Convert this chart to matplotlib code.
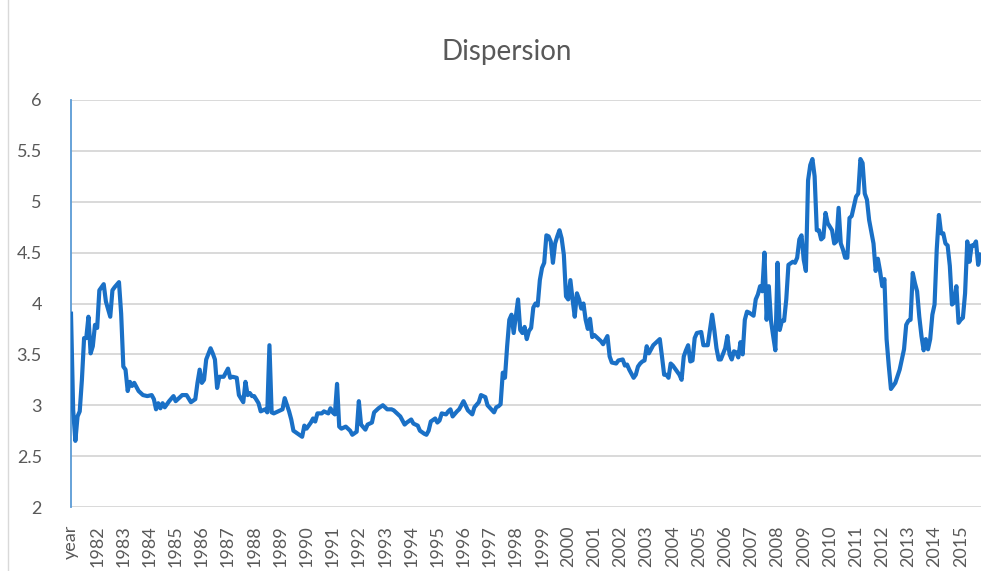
import matplotlib
matplotlib.use("Agg")
import matplotlib.pyplot as plt
from matplotlib.lines import Line2D

# monthly category index (0 = first category, labelled "year") and value
month_idx = [
    0, 1, 2, 3, 4, 5, 6, 7, 8, 9, 10, 11, 12, 13, 15, 16, 18, 19, 20, 22,
    23, 24, 25, 26, 27, 28, 29, 31, 33, 35, 37, 38, 39, 40, 41, 42, 43, 45, 47, 48,
    51, 53, 55, 57, 58, 59, 60, 61, 62, 64, 65, 66, 67, 68, 70, 72, 73, 74, 76, 77,
    79, 80, 81, 82, 83, 84, 86, 87, 89, 90, 91, 92, 93, 95, 97, 98, 100, 101, 102, 104,
    106, 107, 108, 110, 111, 112, 113, 115, 116, 118, 119, 120, 121, 122, 123, 124, 126, 128, 129, 131,
    132, 133, 135, 136, 138, 139, 141, 143, 145, 147, 148, 150, 151, 153, 154, 156, 157, 159, 160, 162,
    163, 164, 165, 167, 168, 169, 170, 172, 173, 174, 175, 177, 178, 180, 182, 184, 185, 187, 188, 190,
    191, 194, 195, 196, 197, 198, 199, 200, 201, 202, 203, 205, 206, 207, 208, 209, 210, 211, 212, 213,
    214, 215, 216, 217, 218, 219, 220, 221, 222, 223, 224, 225, 226, 227, 228, 229, 230, 231, 232, 233,
    234, 235, 236, 237, 238, 239, 240, 241, 243, 244, 246, 247, 248, 250, 251, 253, 254, 255, 256, 258,
    259, 260, 261, 262, 263, 264, 265, 267, 268, 270, 271, 272, 273, 274, 275, 276, 277, 279, 280, 281,
    282, 283, 284, 285, 286, 287, 289, 290, 291, 292, 294, 295, 296, 297, 298, 300, 301, 302, 303, 304,
    305, 306, 307, 308, 309, 310, 311, 313, 314, 315, 316, 317, 318, 319, 320, 321, 322, 323, 324, 325,
    326, 327, 328, 329, 331, 332, 333, 334, 335, 336, 337, 338, 339, 340, 341, 342, 343, 344, 345, 346,
    347, 349, 350, 351, 352, 353, 354, 355, 356, 357, 358, 360, 361, 362, 363, 364, 365, 366, 368, 369,
    370, 371, 372, 373, 374, 375, 376, 377, 378, 380, 381, 382, 383, 384, 385, 386, 387, 388, 389, 390,
    391, 392, 393, 394, 395, 396, 397, 398, 399, 400, 401, 402, 403, 404, 405, 406, 407, 408, 409, 410,
    411, 412, 413, 414, 415, 416, 417,
]
dispersion = [
    3.90, 2.95, 2.65, 2.89, 2.94, 3.25, 3.66, 3.66, 3.87, 3.51, 3.58, 3.79, 3.76, 4.13, 4.19, 4.02, 3.87, 4.13, 4.16, 4.21,
    3.90, 3.38, 3.35, 3.14, 3.23, 3.19, 3.22, 3.14, 3.10, 3.09, 3.10, 3.06, 2.96, 3.02, 2.97, 3.02, 2.98, 3.04, 3.09, 3.04,
    3.10, 3.10, 3.03, 3.06, 3.22, 3.35, 3.22, 3.25, 3.45, 3.56, 3.51, 3.45, 3.17, 3.28, 3.28, 3.36, 3.27, 3.28, 3.27, 3.10,
    3.03, 3.23, 3.10, 3.12, 3.09, 3.09, 3.02, 2.94, 2.96, 2.93, 3.59, 2.93, 2.92, 2.94, 2.96, 3.07, 2.94, 2.86, 2.75, 2.72,
    2.69, 2.80, 2.77, 2.83, 2.87, 2.84, 2.92, 2.92, 2.94, 2.92, 2.97, 2.93, 2.91, 3.21, 2.79, 2.77, 2.79, 2.75, 2.71, 2.74,
    3.04, 2.81, 2.76, 2.81, 2.83, 2.93, 2.97, 3.00, 2.96, 2.96, 2.95, 2.91, 2.89, 2.81, 2.83, 2.86, 2.82, 2.80, 2.75, 2.72,
    2.71, 2.75, 2.84, 2.87, 2.83, 2.85, 2.92, 2.91, 2.94, 2.96, 2.89, 2.94, 2.96, 3.04, 2.95, 2.91, 2.98, 3.03, 3.10, 3.08,
    3.00, 2.93, 2.98, 2.99, 3.01, 3.32, 3.27, 3.58, 3.84, 3.89, 3.71, 4.04, 3.74, 3.71, 3.77, 3.65, 3.73, 3.76, 3.96, 4.00,
    3.98, 4.23, 4.35, 4.40, 4.67, 4.66, 4.61, 4.40, 4.59, 4.66, 4.72, 4.64, 4.48, 4.07, 4.04, 4.23, 4.04, 3.87, 4.10, 4.04,
    3.95, 4.00, 3.84, 3.75, 3.85, 3.67, 3.69, 3.67, 3.63, 3.60, 3.68, 3.48, 3.42, 3.41, 3.44, 3.45, 3.39, 3.40, 3.35, 3.27,
    3.30, 3.38, 3.41, 3.43, 3.44, 3.58, 3.51, 3.59, 3.61, 3.65, 3.48, 3.30, 3.30, 3.27, 3.41, 3.39, 3.36, 3.30, 3.25, 3.48,
    3.54, 3.59, 3.43, 3.44, 3.66, 3.71, 3.72, 3.59, 3.59, 3.59, 3.89, 3.74, 3.56, 3.45, 3.45, 3.56, 3.68, 3.50, 3.45, 3.53,
    3.52, 3.47, 3.62, 3.50, 3.84, 3.92, 3.91, 3.88, 4.04, 4.09, 4.17, 4.12, 4.50, 3.84, 4.17, 3.83, 3.68, 3.54, 4.40, 3.74,
    3.83, 3.83, 4.04, 4.38, 4.41, 4.40, 4.45, 4.63, 4.67, 4.43, 4.32, 5.21, 5.36, 5.42, 5.25, 4.72, 4.72, 4.63, 4.65, 4.89,
    4.79, 4.72, 4.59, 4.61, 4.94, 4.59, 4.53, 4.45, 4.45, 4.84, 4.86, 5.05, 5.08, 5.42, 5.38, 5.08, 5.02, 4.82, 4.59, 4.32,
    4.44, 4.32, 4.17, 4.24, 3.65, 3.39, 3.16, 3.19, 3.22, 3.35, 3.45, 3.55, 3.79, 3.83, 3.84, 4.30, 4.20, 4.12, 3.87, 3.68,
    3.54, 3.65, 3.55, 3.65, 3.89, 3.99, 4.53, 4.87, 4.69, 4.69, 4.59, 4.57, 4.37, 3.99, 4.01, 4.17, 3.81, 3.84, 3.86, 4.10,
    4.61, 4.41, 4.57, 4.57, 4.61, 4.38, 4.48,
]

tick_labels = ["year"] + [str(y) for y in range(1982, 2016)]
yticks = [2, 2.5, 3, 3.5, 4, 4.5, 5, 5.5, 6]

plt.rcParams["font.family"] = ["Lato", "DejaVu Sans"]
TEXT = "#595959"

fig = plt.figure(figsize=(9.93, 5.71), dpi=100)
ax = fig.add_axes([71 / 993, 64 / 571, 910 / 993, 407 / 571])

ax.plot(month_idx, dispersion, color="#1A70C6", lw=3.0, solid_joinstyle="round", zorder=3)

ax.set_ylim(2, 6)
ax.set_xlim(0, 417.3)
ax.set_yticks(yticks)
ax.set_yticklabels([f"{v:g}" for v in yticks])
ax.set_xticks([12 * i for i in range(len(tick_labels))])
ax.set_xticklabels(tick_labels, rotation=90, va="top", ha="center")
ax.grid(axis="y", color="#D9D9D9", lw=1.4)
ax.set_axisbelow(True)
ax.tick_params(axis="y", length=0, pad=21, labelsize=13, labelcolor=TEXT)
ax.tick_params(axis="x", length=0, pad=13, labelsize=13, labelcolor=TEXT)

for side in ["top", "right", "bottom"]:
    ax.spines[side].set_visible(False)
ax.spines["left"].set_color("#5B9BD5")
ax.spines["left"].set_linewidth(1.3)

fig.text(507 / 993, 1 - 52 / 571, "Dispersion", ha="center", va="center",
         fontsize=20, color=TEXT)

# chart area border on the left
fig.add_artist(Line2D([8 / 993, 8 / 993], [0, 1], color="#D9D9D9", lw=1))

fig.savefig("out.png", dpi=100)
